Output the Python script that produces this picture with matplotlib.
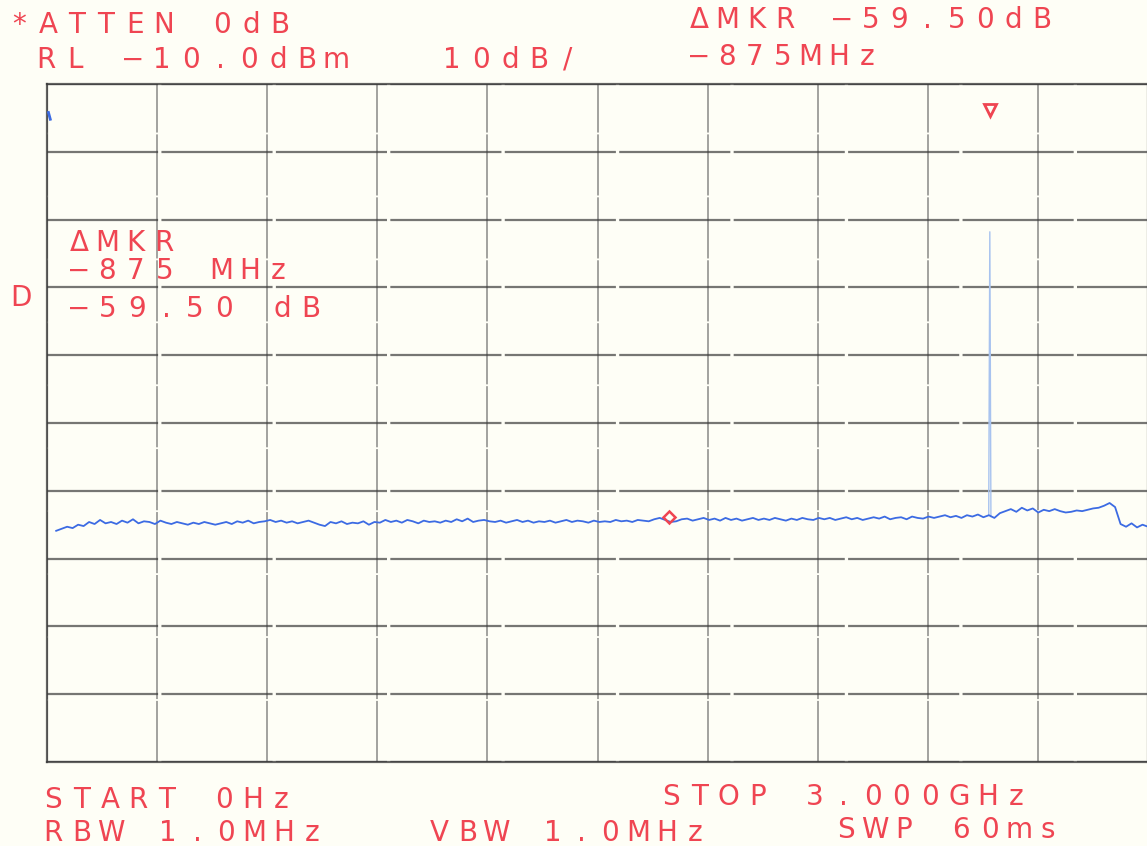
import numpy as np
import matplotlib
matplotlib.use("Agg")
import matplotlib.pyplot as plt

# ---- instrument settings / scale ----
START_MHZ = 0
STOP_MHZ = 3000
REF_LEVEL_DBM = -10.0
DB_PER_DIV = 10
N_DIV = 10

# ---- noise trace (hand-read levels, dBm) ----
TRACE_START_MHZ = 25
TRACE_STOP_MHZ = 3000
TRACE_LEVEL = [
    -75.9, -75.6, -75.3, -75.5, -75.0, -75.2, -74.6, -74.9, -74.3, -74.8,
    -74.6, -74.9, -74.4, -74.7, -74.2, -74.8, -74.5, -74.6, -74.9, -74.4,
    -74.7, -74.9, -74.6, -74.8, -75.0, -74.7, -74.9, -74.6, -74.8, -75.0,
    -74.8, -74.6, -74.9, -74.5, -74.7, -74.4, -74.8, -74.6, -74.5, -74.3,
    -74.6, -74.4, -74.7, -74.5, -74.8, -74.6, -74.4, -74.7, -75.0, -75.2,
    -74.6, -74.8, -74.5, -74.9, -74.7, -74.8, -74.5, -75.0, -74.6, -74.7,
    -74.3, -74.6, -74.4, -74.7, -74.3, -74.5, -74.8, -74.4, -74.6, -74.5,
    -74.7, -74.4, -74.6, -74.2, -74.5, -74.1, -74.6, -74.4, -74.3, -74.5,
    -74.6, -74.4, -74.7, -74.5, -74.3, -74.6, -74.4, -74.7, -74.5, -74.6,
    -74.4, -74.7, -74.5, -74.3, -74.6, -74.4, -74.5, -74.7, -74.4, -74.6,
    -74.5, -74.6, -74.3, -74.5, -74.4, -74.6, -74.3, -74.4, -74.5, -74.2,
    -74.0, -74.3, -74.6, -74.5, -74.2, -74.1, -74.4, -74.2, -74.0, -74.3,
    -74.1, -74.4, -74.0, -74.3, -74.1, -74.4, -74.2, -74.0, -74.3, -74.1,
    -74.3, -74.0, -74.2, -74.4, -74.1, -74.3, -74.0, -74.2, -74.3, -74.0,
    -74.2, -74.0, -74.3, -74.1, -73.9, -74.2, -74.0, -74.3, -74.1, -73.9,
    -74.1, -73.8, -74.2, -74.0, -73.9, -74.2, -73.8, -74.0, -74.1, -73.8,
    -74.0, -73.8, -73.6, -73.9, -73.7, -74.0, -73.6, -73.8, -73.5, -73.9,
    -73.6, -74.0, -73.3, -73.0, -72.7, -73.1, -72.5, -72.9, -72.6, -73.2,
    -72.8, -73.0, -72.7, -73.0, -73.2, -73.1, -72.9, -73.0, -72.8, -72.6,
    -72.5, -72.2, -71.8, -72.4, -74.9, -75.3, -74.8, -75.4, -75.0, -75.3,
]

# ---- narrow spurious line (faint pen stroke) ----
SPIKE_FREQ_MHZ = [2566, 2569, 2572]
SPIKE_LEVEL_DBM = [-73.6, -31.8, -73.8]

# ---- small pen mark at top left ----
PEN_FREQ_MHZ = [4, 9]
PEN_LEVEL_DBM = [-14.2, -15.2]

# ---- markers ----
REF_MARKER_FREQ = 2569      # reference marker (triangle)
REF_MARKER_LEVEL = -13.8
DELTA_MARKER_FREQ = 1694    # delta marker (diamond)
DELTA_MARKER_LEVEL = -73.9

# ---- annotation texts ----
TOP_LEFT_1 = "*ATTEN 0dB"
TOP_LEFT_2 = "RL \u221210.0dBm   10dB/"
TOP_RIGHT_1 = "\u0394MKR \u221259.50dB"
TOP_RIGHT_2 = "\u2212875MHz"
IN_PLOT = ["\u0394MKR", "\u2212875 MHz", "\u221259.50 dB"]
SIDE_LABEL = "D"
BOTTOM_1L = "START 0Hz"
BOTTOM_1R = "STOP 3.000GHz"
BOTTOM_2 = ["RBW 1.0MHz", "VBW 1.0MHz", "SWP 60ms"]

RED = "#ef4552"
BLUE = "#3c6be3"
PALE_BLUE = "#a8c3ef"
GRID = "#3c3c3c"
PAPER = "#fefef6"

W, H = 1147, 846
fig = plt.figure(figsize=(W / 100, H / 100), dpi=100, facecolor=PAPER)

left_px, right_px, top_px, bot_px = 47, 1148, 84, 762
ax = fig.add_axes([left_px / W, 1 - bot_px / H,
                   (right_px - left_px) / W, (bot_px - top_px) / H])
ax.set_facecolor(PAPER)

bottom_level = REF_LEVEL_DBM - DB_PER_DIV * N_DIV
ax.set_xlim(START_MHZ, STOP_MHZ)
ax.set_ylim(bottom_level, REF_LEVEL_DBM)
ax.set_xticks(np.linspace(START_MHZ, STOP_MHZ, N_DIV + 1))
ax.set_yticks(np.linspace(bottom_level, REF_LEVEL_DBM, N_DIV + 1))
ax.tick_params(length=0, labelleft=False, labelbottom=False)
ax.grid(True, axis="x", color=GRID, lw=1.1, alpha=0.6, dashes=(40, 1.2))
ax.grid(True, axis="y", color=GRID, lw=1.6, alpha=0.7, dashes=(50, 1.5))
for sp in ax.spines.values():
    sp.set_color(GRID)
    sp.set_linewidth(1.6)
    sp.set_alpha(0.8)

trace_freq = np.linspace(TRACE_START_MHZ, TRACE_STOP_MHZ, len(TRACE_LEVEL))
ax.plot(trace_freq, TRACE_LEVEL, color=BLUE, lw=1.3, zorder=3)
ax.plot(SPIKE_FREQ_MHZ, SPIKE_LEVEL_DBM, color=PALE_BLUE, lw=1.0, zorder=2)
ax.plot(PEN_FREQ_MHZ, PEN_LEVEL_DBM, color=BLUE, lw=2.0, zorder=3)

ax.plot([REF_MARKER_FREQ], [REF_MARKER_LEVEL], marker="v", ms=9, mfc="none",
        mec=RED, mew=2.0, ls="none", zorder=4)
ax.plot([DELTA_MARKER_FREQ], [DELTA_MARKER_LEVEL], marker="D", ms=6.5, mfc="none",
        mec=RED, mew=1.8, ls="none", zorder=4)

PITCH = 29.0
FS = 20


def plotter_text(x_px, y_px, s, pitch=PITCH):
    """Write a string in plotter style: fixed character pitch."""
    for i, ch in enumerate(s):
        if ch == " ":
            continue
        fig.text((x_px + pitch * i + pitch * 0.38) / W, 1 - y_px / H, ch,
                 color=RED, fontsize=FS, ha="center", va="center",
                 family="DejaVu Sans", fontweight="normal")


plotter_text(8, 25, TOP_LEFT_1)
plotter_text(35, 60, TOP_LEFT_2)
plotter_text(688, 20, TOP_RIGHT_1, pitch=28.6)
plotter_text(688, 57, TOP_RIGHT_2, pitch=28.0)
plotter_text(68, 243, IN_PLOT[0], pitch=28.5)
plotter_text(68, 271, IN_PLOT[1], pitch=28.5)
plotter_text(68, 309, IN_PLOT[2], pitch=29.0)
plotter_text(10, 298, SIDE_LABEL)
plotter_text(42, 800, BOTTOM_1L, pitch=28.5)
plotter_text(660, 797, BOTTOM_1R, pitch=28.8)
plotter_text(42, 833, BOTTOM_2[0], pitch=28.8)
plotter_text(428, 833, BOTTOM_2[1], pitch=28.5)
plotter_text(835, 830, BOTTOM_2[2], pitch=28.8)

fig.savefig("out.png", dpi=100, facecolor=PAPER)
